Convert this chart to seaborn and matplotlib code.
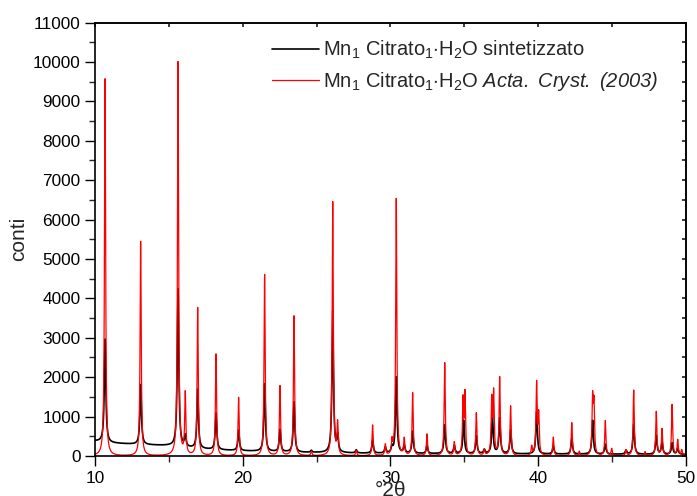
import numpy as np
import pandas as pd
import seaborn as sns
import matplotlib.pyplot as plt
from matplotlib.ticker import MultipleLocator

# Picchi del campione sintetizzato (°2θ, altezza sopra il fondo in conti)
sint_pos = [10.68, 13.09, 15.62, 16.11, 16.95, 18.19, 19.72, 21.48, 22.52, 23.47,
            24.64, 26.09, 26.42, 27.68, 28.79, 29.65, 30.10, 30.39, 30.93, 31.50,
            32.47, 33.67, 34.32, 34.95, 35.81, 36.35, 36.90, 37.39, 38.13, 39.89,
            41.02, 42.27, 43.68, 44.54, 45.94, 46.46, 47.99, 48.38, 49.06, 49.44]
sint_alt = [2620, 1520, 4000, 280, 1500, 930, 520, 1715, 560, 1276,
            50, 3600, 400, 80, 330, 150, 150, 1935, 200, 560,
            200, 730, 200, 850, 450, 100, 980, 900, 600, 1070,
            200, 400, 860, 250, 100, 760, 480, 300, 290, 150]

# Fondo del campione sintetizzato
fondo_pos = [10.0, 11.0, 13.0, 15.0, 16.5, 18.0, 20.0, 22.0, 24.0, 26.0, 28.0, 32.0, 40.0, 50.0]
fondo_val = [380, 330, 290, 260, 200, 160, 130, 110, 90, 80, 70, 60, 50, 40]

# Picchi di riferimento, Acta Cryst. (2003)
ref_pos = [10.68, 13.09, 15.62, 16.11, 16.95, 18.19, 19.72, 21.48, 22.52, 23.47,
           24.64, 26.09, 26.42, 27.68, 28.79, 29.65, 30.10, 30.39, 30.93, 31.50,
           32.47, 33.67, 34.32, 34.91, 35.04, 35.81, 36.35, 36.85, 36.98, 37.39,
           38.13, 39.56, 39.89, 40.03, 41.02, 42.27, 42.78, 43.68, 43.77, 44.54,
           44.97, 45.94, 46.46, 47.23, 47.99, 48.38, 49.06, 49.44, 49.71]
ref_alt = [9570, 5440, 9990, 1560, 3750, 2580, 1480, 4600, 1770, 3550,
           110, 6440, 800, 140, 780, 280, 330, 6520, 420, 1590,
           550, 2360, 340, 1380, 1530, 1080, 150, 1380, 1550, 1980,
           1260, 230, 1820, 1000, 470, 840, 110, 1400, 1250, 890,
           180, 150, 1670, 100, 1120, 680, 1300, 400, 150]

etichetta_sint = r"Mn$_1$ Citrato$_1$$\cdot$H$_2$O sintetizzato"
etichetta_ref = r"Mn$_1$ Citrato$_1$$\cdot$H$_2$O $\mathsf{Acta.\ Cryst.\ (2003)}$"


def profilo(x, pos, alt, gamma):
    y = np.zeros_like(x)
    for p, h in zip(pos, alt):
        y += h * gamma ** 2 / ((x - p) ** 2 + gamma ** 2)
    return y


x = np.round(np.arange(10, 50.0001, 0.005), 3)
y_sint = np.interp(x, fondo_pos, fondo_val) + profilo(x, sint_pos, sint_alt, 0.06)
y_ref = profilo(x, ref_pos, ref_alt, 0.045)

df = pd.DataFrame({"2theta": np.concatenate([x, x]),
                   "conti": np.concatenate([y_sint, y_ref]),
                   "serie": [etichetta_sint] * len(x) + [etichetta_ref] * len(x)})

sns.set_theme(style="ticks")
plt.rcParams["font.family"] = ["Liberation Sans", "DejaVu Sans"]
plt.rcParams["mathtext.fontset"] = "custom"
plt.rcParams["mathtext.rm"] = "Liberation Sans"
plt.rcParams["mathtext.it"] = "Liberation Sans:italic"
# sf usato per il testo corsivo con cifre e parentesi
plt.rcParams["mathtext.sf"] = "Liberation Sans:italic"

fig = plt.figure(figsize=(6.97, 4.96), dpi=100)
ax = fig.add_axes([0.1363, 0.0806, 0.8479, 0.874])

sns.lineplot(data=df[df["serie"] == etichetta_sint], x="2theta", y="conti",
             color="black", linewidth=1.2, label=etichetta_sint, ax=ax)
sns.lineplot(data=df[df["serie"] == etichetta_ref], x="2theta", y="conti",
             color="#ff0000", linewidth=0.9, label=etichetta_ref, ax=ax)

ax.set_xlim(10, 50)
ax.set_ylim(0, 11000)
ax.xaxis.set_major_locator(MultipleLocator(10))
ax.xaxis.set_minor_locator(MultipleLocator(5))
ax.yaxis.set_major_locator(MultipleLocator(1000))
ax.yaxis.set_minor_locator(MultipleLocator(500))
ax.tick_params(which="major", direction="out", length=7, width=1, labelsize=12.4, colors="black")
ax.tick_params(which="minor", direction="out", length=4, width=1)

for s in ax.spines.values():
    s.set_visible(True)
    s.set_linewidth(1.2)
    s.set_color("black")

# tacche interne su lato superiore e destro
top = ax.secondary_xaxis("top")
top.xaxis.set_major_locator(MultipleLocator(5))
top.tick_params(direction="in", length=3, labeltop=False)
right = ax.secondary_yaxis("right")
right.yaxis.set_major_locator(MultipleLocator(500))
right.tick_params(direction="in", length=3, labelright=False)

ax.set_xlabel("°2θ", fontsize=15)
ax.xaxis.set_label_coords(0.5, -0.058)
ax.set_ylabel("conti", fontsize=15)
ax.yaxis.set_label_coords(-0.113, 0.5)

ax.legend(loc="upper left", bbox_to_anchor=(0.293, 0.972), frameon=False,
          fontsize=14.5, handlelength=2.3, handletextpad=0.2, labelspacing=0.45,
          borderaxespad=0, borderpad=0.2)

fig.savefig("out.png", dpi=100)
